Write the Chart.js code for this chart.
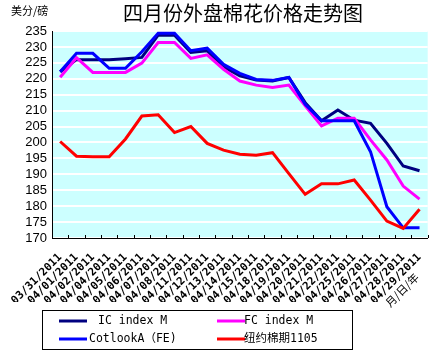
<!DOCTYPE html>
<html>
<head>
<meta charset="utf-8">
<script src="https://cdn.jsdelivr.net/npm/chart.js@4"></script>
<style>
  html, body { margin: 0; padding: 0; background: #fff; }
  #wrap { width: 434px; height: 352px; }
</style>
</head>
<body>
<div id="wrap"><canvas id="myChart" width="434" height="352"></canvas></div>
<script>
// dates on the x axis
const dates = ['03/31/2011', '04/01/2011', '04/02/2011', '04/04/2011', '04/05/2011', '04/06/2011',
  '04/07/2011', '04/08/2011', '04/11/2011', '04/12/2011', '04/13/2011', '04/14/2011', '04/15/2011',
  '04/18/2011', '04/19/2011', '04/20/2011', '04/21/2011', '04/22/2011', '04/25/2011', '04/26/2011',
  '04/27/2011', '04/28/2011', '04/29/2011'];

const icIndex = [222.2, 226, 226, 226, 226.3, 226.7, 233.7, 233.7, 228.3, 228.8, 223.8, 220.9,
  219.6, 219.3, 220.4, 212.5, 206.8, 210.2, 207, 206, 199.7, 192.6, 191.1];
const fcIndex = [220.5, 226.6, 222, 222, 222, 224.9, 231.4, 231.4, 226.4, 227.5, 223, 219.3,
  218, 217.3, 218, 211.5, 205.2, 207.6, 207.6, 200.8, 194.5, 186.3, 182.2];
const cotlookA = [222.2, 228, 228, 223.3, 223.3, 228.5, 234.3, 234.3, 228.8, 229.6, 224.5, 221.7,
  219.8, 219.5, 220.4, 212, 206.8, 206.8, 206.8, 197.1, 179.8, 173.2, 173.2];
const nyFutures = [200.3, 195.7, 195.5, 195.5, 201.1, 208.3, 208.7, 203.1, 205, 199.7, 197.6, 196.3,
  196, 196.8, 190.2, 183.7, 187, 187, 188.2, 181.9, 175.3, 173, 179];

const yTickValues = [170, 175, 180, 185, 190, 195, 200, 205, 210, 215, 220, 225, 230, 235];

// background + titles + legend box
const decor = {
  id: 'decor',
  beforeDraw(chart) {
    const ctx = chart.ctx, a = chart.chartArea;
    ctx.save();
    ctx.fillStyle = '#fff';
    ctx.fillRect(0, 0, chart.width, chart.height);
    ctx.fillStyle = '#ccffff';
    ctx.fillRect(a.left, a.top, a.right - a.left, a.bottom - a.top);
    ctx.restore();
  },
  afterDraw(chart) {
    const ctx = chart.ctx, a = chart.chartArea;
    ctx.save();
    // small inward tick marks on the x axis
    const xs = chart.scales.x;
    ctx.strokeStyle = '#000';
    ctx.lineWidth = 1;
    for (let i = 0; i <= dates.length; i++) {
      const px = Math.round(xs.getPixelForValue(i - 0.5)) + 0.5;
      ctx.beginPath();
      ctx.moveTo(px, a.bottom);
      ctx.lineTo(px, a.bottom - 3);
      ctx.stroke();
    }

    ctx.fillStyle = '#000';
    ctx.textBaseline = 'middle';
    ctx.textAlign = 'center';
    ctx.font = '20px "Noto Sans CJK SC"';
    ctx.fillText('四月份外盘棉花价格走势图', 243, 13);
    ctx.textAlign = 'left';
    ctx.font = '11px "Noto Sans CJK SC"';
    ctx.fillText('美分/磅', 11, 11);

    // axis name, rotated
    ctx.save();
    ctx.translate(402, 290);
    ctx.rotate(-Math.PI / 4);
    ctx.textAlign = 'center';
    ctx.font = '11px "Noto Sans CJK SC"';
    ctx.fillText('月/日/年', 0, 0);
    ctx.restore();

    // legend
    ctx.strokeStyle = '#000';
    ctx.lineWidth = 1;
    ctx.strokeRect(42.5, 310.5, 310, 39);
    const items = [
      { ds: 0, x: 59, y: 321, tx: 98 },
      { ds: 1, x: 217, y: 321, tx: 244 },
      { ds: 2, x: 59, y: 339, tx: 89 },
      { ds: 3, x: 217, y: 339, tx: 244 }
    ];
    items.forEach(it => {
      const d = chart.data.datasets[it.ds];
      ctx.strokeStyle = d.borderColor;
      ctx.lineWidth = 3;
      ctx.beginPath();
      ctx.moveTo(it.x, it.y);
      ctx.lineTo(it.x + 28, it.y);
      ctx.stroke();
      ctx.fillStyle = '#000';
      ctx.font = '11.5px "DejaVu Sans Mono", "Noto Sans CJK SC"';
      ctx.fillText(d.label, it.tx, it.y);
    });
    ctx.restore();
  }
};

new Chart(document.getElementById('myChart'), {
  type: 'line',
  data: {
    labels: dates,
    datasets: [
      { label: 'IC index M', data: icIndex, borderColor: '#000080', order: 4 },
      { label: 'FC index M', data: fcIndex, borderColor: '#ff00ff', order: 3 },
      { label: 'CotlookA（FE)', data: cotlookA, borderColor: '#0000ff', order: 2 },
      { label: '纽约棉期1105', data: nyFutures, borderColor: '#ff0000', order: 1 }
    ].map(d => Object.assign(d, { borderWidth: 3, pointRadius: 0, tension: 0, fill: false }))
  },
  options: {
    responsive: false,
    animation: false,
    layout: { padding: { top: 31, right: 6, bottom: 50, left: 0 } },
    plugins: { legend: { display: false }, title: { display: false }, tooltip: { enabled: false } },
    scales: {
      x: {
        offset: true,
        grid: { display: false },
        border: { color: '#000', width: 1 },
        ticks: {
          autoSkip: false, maxRotation: 45, minRotation: 45, padding: 5,
          color: '#000', font: { family: 'DejaVu Sans Mono', size: 11, weight: 'bold' }
        },
        afterFit(s) { s.height = 64; }
      },
      y: {
        min: yTickValues[0],
        max: yTickValues[yTickValues.length - 1],
        grid: { color: '#fff', lineWidth: 2, drawTicks: false },
        border: { color: '#000', width: 1 },
        ticks: {
          autoSkip: false, padding: 5, color: '#000',
          font: { family: 'Liberation Sans', size: 13 }
        },
        afterBuildTicks(s) { s.ticks = yTickValues.map(v => ({ value: v })); },
        afterFit(s) { s.width = 52; }
      }
    }
  },
  plugins: [decor]
});
</script>
</body>
</html>
